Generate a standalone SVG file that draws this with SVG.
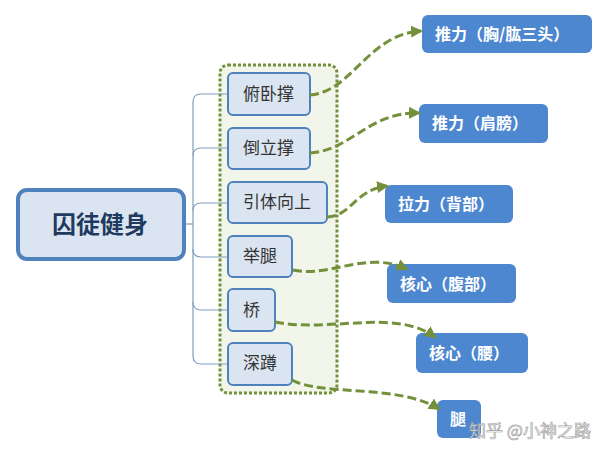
<svg xmlns="http://www.w3.org/2000/svg" width="608" height="455" viewBox="0 0 608 455">
<style>
text{font-family:"Noto Sans CJK SC","Noto Sans",sans-serif}
.child rect{fill:#dbe5f1;stroke:#4f81bd;stroke-width:2}
.child text{font-size:17px;fill:#333}
.res rect{fill:#4d87cf}
.res text{font-size:16px;font-weight:bold;fill:#fff}
.br{fill:none;stroke:#7f9fbf;stroke-width:1.2}
.ar{fill:none;stroke:#73903a;stroke-width:3;stroke-dasharray:9 4;marker-end:url(#ah)}
</style>
<defs>
<marker id="ah" markerWidth="12" markerHeight="12" refX="10" refY="6" orient="auto" markerUnits="userSpaceOnUse" viewBox="0 0 12 12">
<path d="M0,0 L12,6 L0,12 Z" fill="#73903a"/>
</marker>
</defs>
<rect width="608" height="455" fill="#fff"/>
<g id="group-box">
<rect x="220" y="65" width="117" height="328" rx="8" fill="#f2f5e9" stroke="#73903a" stroke-width="3" stroke-dasharray="3 2"/>
</g>
<g id="branches">
<path class="br" d="M185,224 H193"/>
<path class="br" d="M228,94 H201 Q193,94 193,102 V356 Q193,364 201,364 H228"/>
<path class="br" d="M228,148 H201 Q193,148 193,156"/>
<path class="br" d="M228,203 H201 Q193,203 193,211"/>
<path class="br" d="M228,257 H201 Q193,257 193,249"/>
<path class="br" d="M228,310 H201 Q193,310 193,302"/>
</g>
<g id="root">
<rect x="18" y="190" width="166" height="69" rx="9" fill="#dbe5f1" stroke="#4f81bd" stroke-width="4"/>
<text x="100" y="233" text-anchor="middle" font-size="24" font-weight="bold" fill="#1f3a5f">囚徒健身</text>
</g>
<g id="n1" class="child"><rect x="228" y="73" width="82" height="42" rx="5"/><text x="243" y="100">俯卧撑</text></g>
<g id="n2" class="child"><rect x="228" y="128" width="82" height="41" rx="5"/><text x="243" y="154">倒立撑</text></g>
<g id="n3" class="child"><rect x="228" y="182" width="99" height="41" rx="5"/><text x="243" y="208">引体向上</text></g>
<g id="n4" class="child"><rect x="228" y="236" width="64" height="41" rx="5"/><text x="243" y="262">举腿</text></g>
<g id="n5" class="child"><rect x="228" y="289" width="47" height="42" rx="5"/><text x="243" y="316">桥</text></g>
<g id="n6" class="child"><rect x="228" y="343" width="64" height="42" rx="5"/><text x="243" y="369">深蹲</text></g>
<g id="r1" class="res"><rect x="422" y="15" width="170" height="38" rx="6"/><text x="435" y="40">推力（胸/肱三头）</text></g>
<g id="r2" class="res"><rect x="419" y="104" width="129" height="39" rx="6"/><text x="432" y="129">推力（肩膀）</text></g>
<g id="r3" class="res"><rect x="385" y="185" width="128" height="38" rx="6"/><text x="398" y="210">拉力（背部）</text></g>
<g id="r4" class="res"><rect x="387" y="264" width="129" height="39" rx="6"/><text x="400" y="290">核心（腹部）</text></g>
<g id="r5" class="res"><rect x="416" y="333" width="112" height="40" rx="6"/><text x="429" y="359">核心（腰）</text></g>
<g id="r6" class="res"><rect x="437" y="400" width="44" height="38" rx="6"/><text x="450" y="425">腿</text></g>
<g id="connectors">
<path class="ar" d="M310,95 C352,92 368,34 421,31"/>
<path class="ar" d="M310,153 C352,150 368,112 419,113"/>
<path class="ar" d="M327,217 C352,216 354,190 387,186"/>
<path class="ar" d="M293,270 C330,278 365,250 407,269"/>
<path class="ar" d="M275,322 C330,333 395,308 435,337"/>
<path class="ar" d="M292,380 C320,396 400,384 439,409"/>
</g>
<text x="469" y="437" font-size="17" fill="#fff" stroke="#999" stroke-width="0.7" opacity="0.9">知乎 @小神之路</text>
</svg>
